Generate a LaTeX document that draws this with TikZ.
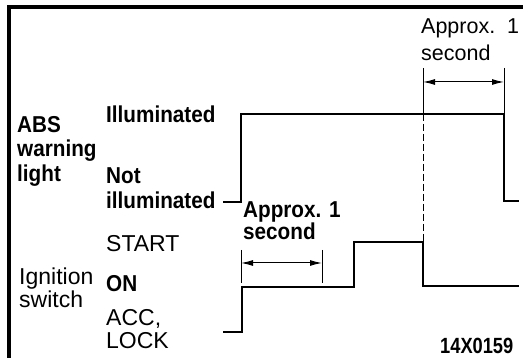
\documentclass[tikz,border=0pt]{standalone}
\usepackage{fontspec}
\setmainfont{Liberation Sans}
\newfontfamily\narrowface[FakeStretch=0.9]{Liberation Sans}
\newfontfamily\codefont[FakeStretch=0.83]{Liberation Sans}
\usetikzlibrary{arrows.meta,calc}

\begin{document}
\begin{tikzpicture}[x=1pt, y=-1pt,
  every node/.style={inner sep=0pt, anchor=base west},
  txt/.style={font=\fontsize{23}{25}\selectfont},
  btxt/.style={font=\fontsize{23}{25}\selectfont\narrowface\bfseries},
  signal/.style={line width=2.5pt, line join=miter},
  tickline/.style={line width=0.9pt},
  span/.style={line width=1pt, {Latex[length=12pt,width=6pt]}-{Latex[length=12pt,width=6pt]}}]
  \useasboundingbox (0,0) rectangle (523,358);
  \draw[line width=4pt] (9,360) -- (9,7) -- (525,7);

  % labels on the left
  \node[btxt] (abs)   at (17,133) {ABS};
  \node[btxt] (warn)  at (17,157) {warning};
  \node[btxt] (light) at (17,182) {light};
  \node[btxt] (illum) at (106,123) {Illuminated};
  \node[btxt] (nott)  at (106,184) {Not};
  \node[btxt] (notil) at (106,209) {illuminated};
  \node[txt]  (start) at (106,252) {START};
  \node[txt]  (ign)   at (19,285) {Ignition};
  \node[txt]  (swi)   at (19,308) {switch};
  \node[btxt] (on)    at (106,292) {ON};
  \node[txt]  (acc)   at (106,326) {ACC,};
  \node[txt]  (lock)  at (106,349) {LOCK};

  % time spans
  \node[txt, font=\fontsize{21.5}{24}\selectfont] (apxa) at (421,34) {Approx.\ \ 1};
  \node[txt, font=\fontsize{21.5}{24}\selectfont] (seca) at (421,61) {second};
  \node[btxt] (apxb) at (243,218) {Approx. 1};
  \node[btxt] (secb) at (243,240) {second};
  \node[font=\fontsize{22}{24}\selectfont\codefont\bfseries] (code) at (440,354) {14X0159};

  % ABS warning light
  \coordinate (a0) at (223,202);
  \coordinate (a1) at (241,202);
  \coordinate (a2) at (241,114);
  \coordinate (a3) at (504,114);
  \coordinate (a4) at (504,201);
  \coordinate (a5) at (519,201);
  \draw[signal] (a0) -- (a1) -- (a2) -- (a3) -- (a4) -- (a5);

  % ignition switch
  \coordinate (s0) at (223,332);
  \coordinate (s1) at (242,332);
  \coordinate (s2) at (242,287);
  \coordinate (s3) at (354,287);
  \coordinate (s4) at (354,242);
  \coordinate (s5) at (423,242);
  \coordinate (s6) at (423,286);
  \coordinate (s7) at (519,286);
  \draw[signal] (s0) -- (s1) -- (s2) -- (s3) -- (s4) -- (s5) -- (s6) -- (s7);

  % upper span
  \coordinate (ua) at (423,68);
  \coordinate (ub) at (504,68);
  \coordinate (uc) at (423,114);
  \coordinate (ud) at (423,234);
  \draw[tickline] (ua) -- (uc);
  \draw[tickline] (ub) -- (a3);
  \draw[tickline, dash pattern=on 7pt off 3pt] (uc) -- (ud);
  \draw[tickline] (ud) -- (s5);
  \draw[span] ($(ua)+(0,14)$) -- ($(ub)+(0,14)$);

  % lower span
  \coordinate (la) at (241,250);
  \coordinate (lb) at (322,250);
  \coordinate (lc) at (241,283);
  \coordinate (ld) at (322,283);
  \draw[tickline] (la) -- (lc);
  \draw[tickline] (lb) -- (ld);
  \draw[span] ($(la)+(0,13)$) -- ($(lb)+(0,13)$);
\end{tikzpicture}
\end{document}
